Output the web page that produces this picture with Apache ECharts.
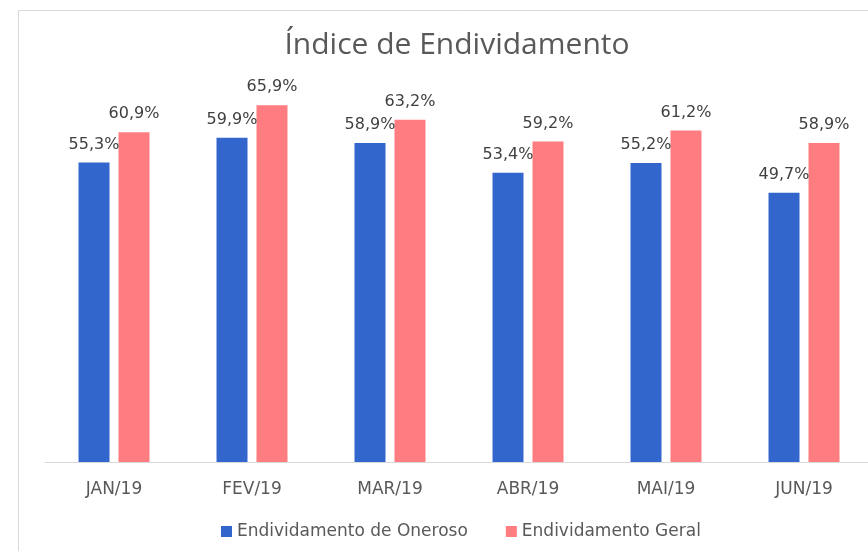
<!DOCTYPE html>
<html>
<head>
<meta charset="utf-8">
<script src="https://cdn.jsdelivr.net/npm/echarts@6/dist/echarts.min.js"></script>
<style>
  html, body { margin: 0; padding: 0; background: #fff; overflow: hidden; }
  #main { width: 900px; height: 551px; }
</style>
</head>
<body>
<div id="main"></div>
<script>
// dados do grafico
const meses = ['JAN/19', 'FEV/19', 'MAR/19', 'ABR/19', 'MAI/19', 'JUN/19'];
const oneroso = [55.3, 59.9, 58.9, 53.4, 55.2, 49.7];
const geral = [60.9, 65.9, 63.2, 59.2, 61.2, 58.9];

const fonteTitulo = '"Open Sans", "Noto Sans", sans-serif';
const fonte = '"DejaVu Sans", "Noto Sans", sans-serif';

let myChart = echarts.init(document.getElementById('main'));

const rotulo = {
  show: true,
  position: 'top',
  distance: 10,
  color: '#404040',
  fontSize: 16,
  fontFamily: fonte,
  formatter: (p) => p.value.toFixed(1).replace('.', ',') + '%'
};

let option = {
  animation: false,
  title: {
    text: 'Índice de Endividamento',
    left: 452,
    textAlign: 'center',
    top: 25,
    textStyle: {
      color: '#595959',
      fontSize: 30,
      fontWeight: 'normal',
      fontFamily: fonteTitulo
    }
  },
  legend: {
    data: ['Endividamento de Oneroso', 'Endividamento Geral'],
    left: 216,
    top: 518,
    itemWidth: 11,
    itemHeight: 11,
    itemGap: 38,
    icon: 'rect',
    textStyle: { color: '#595959', fontSize: 17, fontFamily: fonte }
  },
  graphic: [
    {
      type: 'rect',
      shape: { x: 18.5, y: 10.5, width: 900, height: 600 },
      style: { fill: 'none', stroke: '#d9d9d9', lineWidth: 1 },
      silent: true
    }
  ],
  grid: {
    left: 45,
    right: 27,
    top: 462 - 70 * 5.415,
    bottom: 89
  },
  xAxis: {
    type: 'category',
    data: meses,
    axisLine: { lineStyle: { color: '#d9d9d9', width: 1 } },
    axisTick: { show: false },
    axisLabel: {
      color: '#595959',
      fontSize: 17,
      fontFamily: fonte,
      margin: 19
    }
  },
  yAxis: {
    type: 'value',
    min: 0,
    max: 70,
    show: false,
    splitLine: { show: false }
  },
  series: [
    {
      name: 'Endividamento de Oneroso',
      type: 'bar',
      data: oneroso,
      barWidth: 31,
      barGap: '29%',
      itemStyle: { color: '#3366CC' },
      label: rotulo
    },
    {
      name: 'Endividamento Geral',
      type: 'bar',
      data: geral,
      barWidth: 31,
      itemStyle: { color: '#FF7C80' },
      label: rotulo
    }
  ]
};
myChart.setOption(option, true);
</script>
</body>
</html>
